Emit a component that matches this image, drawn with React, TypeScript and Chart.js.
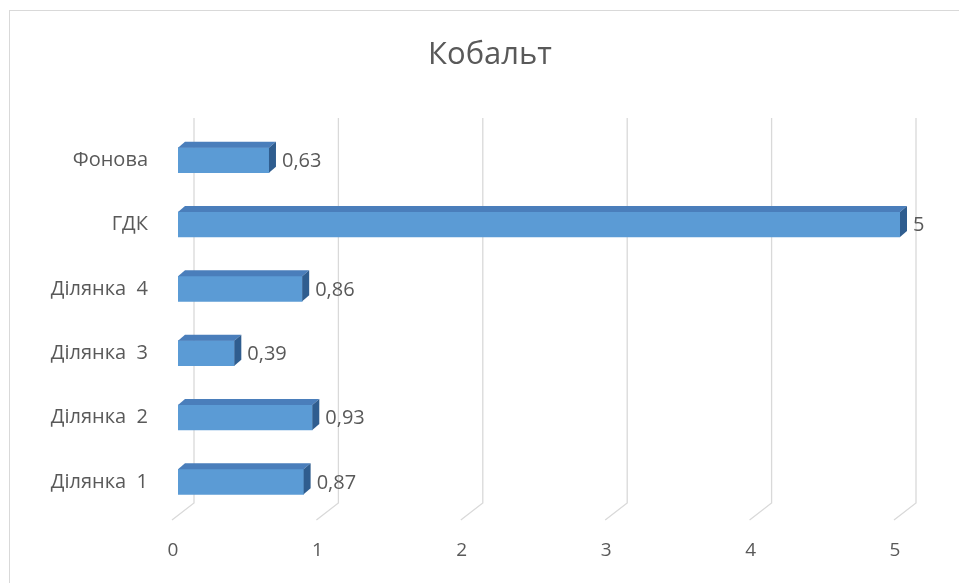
import React, { useEffect, useRef } from 'react';
import { Chart, registerables } from 'chart.js';

Chart.register(...registerables);

const categories = ['Фонова', 'ГДК', 'Ділянка  4', 'Ділянка  3', 'Ділянка  2', 'Ділянка  1'];
const values = [0.63, 5, 0.86, 0.39, 0.93, 0.87];
const valueLabels = ['0,63', '5', '0,86', '0,39', '0,93', '0,87'];
const xTicks = [0, 1, 2, 3, 4, 5];
const titleText = 'Кобальт';

const FONT = '"Open Sans", "Noto Sans", sans-serif';
const TEXT = '#595959';

const threeD = {
  id: 'threeD',
  beforeDatasetsDraw(chart: any) {
    const { ctx, chartArea } = chart;
    const x = chart.scales.x;
    ctx.save();
    ctx.strokeStyle = '#d9d9d9';
    ctx.lineWidth = 1.3;
    for (const v of xTicks) {
      const px = x.getPixelForValue(v);
      ctx.beginPath();
      ctx.moveTo(px + 16, chartArea.top - 10);
      ctx.lineTo(px + 16, chartArea.bottom - 11);
      ctx.lineTo(px - 6, chartArea.bottom + 6);
      ctx.stroke();
    }
    ctx.fillStyle = TEXT;
    ctx.font = `19px ${FONT}`;
    ctx.textAlign = 'center';
    ctx.textBaseline = 'middle';
    for (const v of xTicks) {
      const px = x.getPixelForValue(v);
      ctx.fillText(String(v), px - 5, chartArea.bottom + 37);
    }
    ctx.font = `31px ${FONT}`;
    ctx.fillText(titleText, 490, 55);
    ctx.restore();
  },
  afterDatasetsDraw(chart: any) {
    const { ctx } = chart;
    const meta = chart.getDatasetMeta(0);
    const dx = 7;
    const dy = 6;
    ctx.save();
    meta.data.forEach((bar: any, i: number) => {
      const { x, y, base, height } = bar.getProps(['x', 'y', 'base', 'height'], true);
      const top = y - height / 2;
      const bottom = y + height / 2;
      ctx.fillStyle = '#4A7EBB';
      ctx.beginPath();
      ctx.moveTo(base, top);
      ctx.lineTo(x, top);
      ctx.lineTo(x + dx, top - dy);
      ctx.lineTo(base + dx, top - dy);
      ctx.closePath();
      ctx.fill();
      ctx.fillStyle = '#2F5D8F';
      ctx.beginPath();
      ctx.moveTo(x, top);
      ctx.lineTo(x + dx, top - dy);
      ctx.lineTo(x + dx, bottom - dy);
      ctx.lineTo(x, bottom);
      ctx.closePath();
      ctx.fill();
      ctx.fillStyle = TEXT;
      ctx.font = `20px ${FONT}`;
      ctx.textAlign = 'left';
      ctx.textBaseline = 'middle';
      ctx.fillText(valueLabels[i], x + 13, y + 1);
    });
    ctx.restore();
  },
};

export default function App() {
  const ref = useRef<HTMLCanvasElement | null>(null);
  useEffect(() => {
    if (!ref.current) return;
    const chart = new Chart(ref.current, {
      type: 'bar',
      data: {
        labels: categories,
        datasets: [
          {
            data: values,
            backgroundColor: '#5B9BD5',
            borderWidth: 0,
            barThickness: 25,
          },
        ],
      },
      options: {
        indexAxis: 'y',
        responsive: false,
        animation: false,
        layout: { padding: { left: 0, right: 59, top: 128, bottom: 0 } },
        plugins: {
          legend: { display: false },
          tooltip: { enabled: false },
          title: { display: false },
        },
        scales: {
          x: {
            min: 0,
            max: 5,
            ticks: { display: false, stepSize: 1 },
            grid: { display: false },
            border: { display: false },
            afterFit: (s: any) => {
              s.height = 69;
            },
          },
          y: {
            ticks: { color: TEXT, font: { size: 20, family: FONT }, padding: 22 },
            grid: { display: false },
            border: { display: false },
            afterFit: (s: any) => {
              s.width = 178;
            },
          },
        },
      },
      plugins: [threeD],
    });
    return () => chart.destroy();
  }, []);
  return (
    <div style={{ position: 'fixed', left: 0, top: 0, width: 959, height: 583, background: '#fff' }}>
      <div
        style={{
          position: 'absolute',
          left: 9,
          top: 10,
          width: 960,
          height: 590,
          border: '1px solid #d9d9d9',
          boxSizing: 'border-box',
        }}
      />
      <canvas ref={ref} width={959} height={583} style={{ position: 'absolute', left: 0, top: 0 }} />
    </div>
  );
}
